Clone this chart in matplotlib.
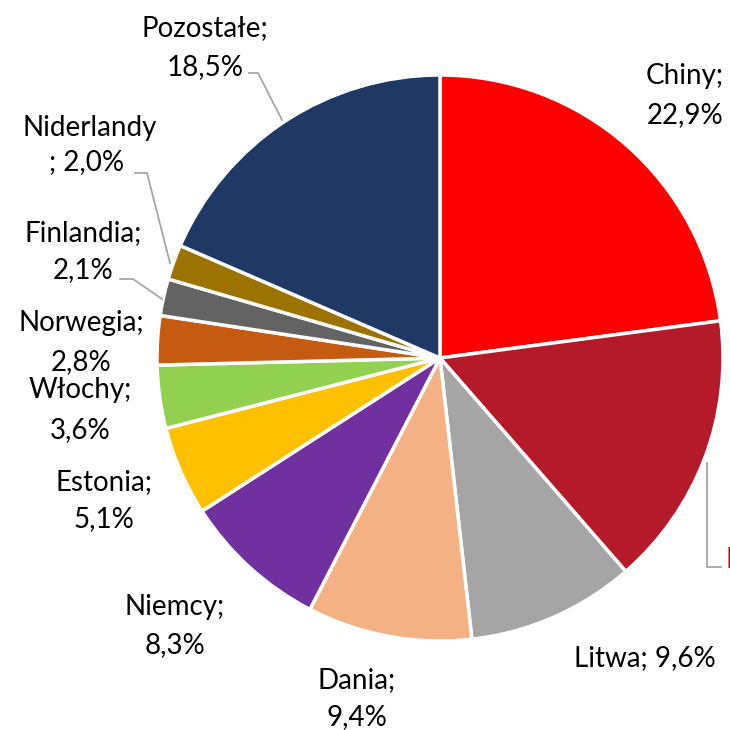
import matplotlib.pyplot as plt

# import partners, share in %
countries = ['Chiny', 'Rosja', 'Litwa', 'Dania', 'Niemcy', 'Estonia', 'Włochy',
             'Norwegia', 'Finlandia', 'Niderlandy', 'Pozostałe']
shares = [22.9, 15.7, 9.6, 9.4, 8.3, 5.1, 3.6, 2.8, 2.1, 2.0, 18.5]
colors = ['#FF0000', '#B41A29', '#A5A5A5', '#F4B183', '#7030A0', '#FFC000',
          '#92D050', '#C55A11', '#636363', '#9C7300', '#203864']

plt.rcParams['font.family'] = ['Lato', 'DejaVu Sans']

H = 730
fig = plt.figure(figsize=(7.3, 7.3), dpi=100)
ax = fig.add_axes([0, 0, 1, 1])

ax.pie(shares, colors=colors, startangle=90, counterclock=False,
       center=(440, H - 358), radius=283,
       wedgeprops=dict(edgecolor='white', linewidth=2.5))
ax.set_xlim(0, 730)
ax.set_ylim(0, H)
ax.set_aspect('equal')
ax.axis('off')


def fmt(v):
    return f'{v:.1f}'.replace('.', ',') + '%'


def txt(x, y, s, **kw):
    # positions given from the top-left corner
    ax.text(x, H - y, s, ha='center', va='center', fontsize=fs, **kw)


# label text positions (line 1 centre, line 2 centre)
label_pos = {
    'Chiny': [(685, 76), (685, 115)],
    'Litwa': [(645, 658)],
    'Dania': [(357, 680), (357, 717)],
    'Niemcy': [(175, 607), (175, 645)],
    'Estonia': [(104, 482), (104, 519)],
    'Włochy': [(80, 390), (80, 430)],
    'Norwegia': [(81, 323), (81, 362)],
    'Finlandia': [(83, 233), (83, 270)],
    'Niderlandy': [(90, 128), (87, 162)],
    'Pozostałe': [(205, 28), (205, 67)],
}
fs = 20
for name, val in zip(countries, shares):
    if name not in label_pos:
        continue
    pos = label_pos[name]
    if len(pos) == 1:
        txt(*pos[0], f'{name}; {fmt(val)}')
    elif name == 'Niderlandy':
        txt(*pos[0], name)
        txt(*pos[1], f'; {fmt(val)}')
    else:
        txt(*pos[0], f'{name};')
        txt(*pos[1], fmt(val))

# the Rosja label runs off the right edge
ax.text(726, H - 560, f'Rosja; {fmt(shares[1])}', ha='left', va='center',
        fontsize=fs, color='#C00000', clip_on=False)

# leader lines
lc = '#A6A6A6'
leaders = [
    ([249, 258, 282], [73, 73, 120]),
    ([135, 147, 170], [173, 173, 263]),
    ([120, 133, 162], [279, 279, 299]),
    ([707, 707, 721], [463, 567, 567]),
]
for xs, ys in leaders:
    ax.plot(xs, [H - y for y in ys], color=lc, lw=1.3)

fig.savefig('out.png', dpi=100)
